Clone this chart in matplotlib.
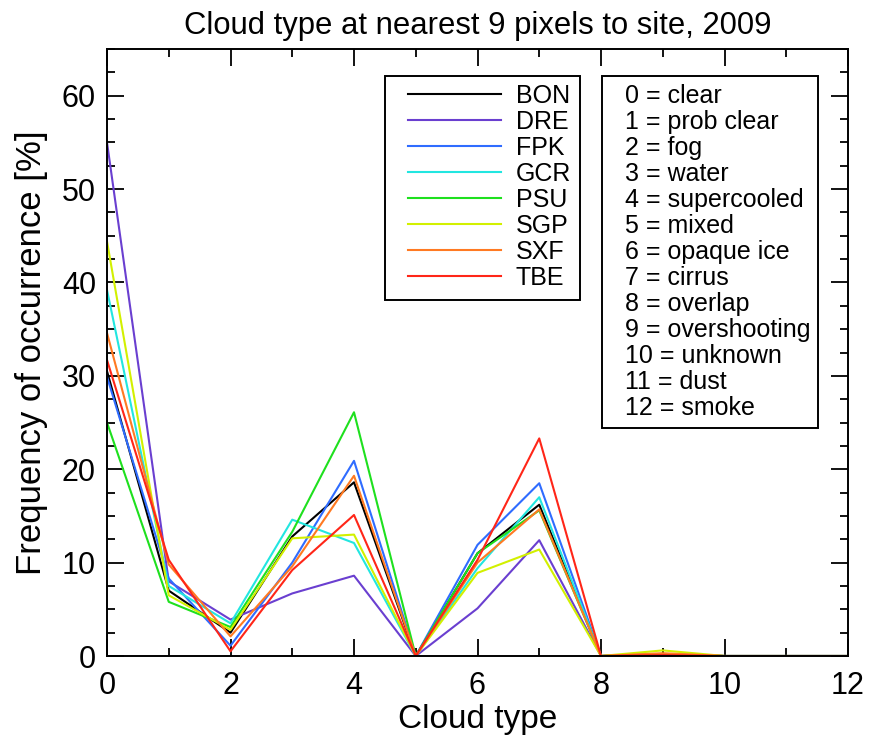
import matplotlib.pyplot as plt
from matplotlib.patches import Rectangle
from matplotlib.ticker import MultipleLocator

plt.rcParams['font.family'] = ['Liberation Sans', 'DejaVu Sans']

# cloud type index on the x axis
cloud_type = [0, 1, 2, 3, 4, 5, 6, 7, 8, 9, 10, 11, 12]

# frequency of occurrence [%] per site
BON = [30.5, 7.0, 2.5, 12.8, 18.6, 0, 11.0, 16.2, 0, 0.2, 0, 0, 0]
DRE = [55.0, 8.0, 3.9, 6.7, 8.6, 0, 5.1, 12.4, 0, 0.2, 0, 0, 0]
FPK = [29.9, 8.3, 1.1, 10.0, 20.9, 0, 11.9, 18.5, 0, 0.1, 0, 0, 0]
GCR = [39.2, 7.5, 3.5, 14.6, 12.1, 0, 9.4, 17.0, 0, 0.2, 0, 0, 0]
PSU = [25.0, 5.8, 3.1, 13.3, 26.1, 0, 11.0, 15.6, 0, 0.2, 0, 0, 0]
SGP = [44.4, 6.5, 2.8, 12.6, 13.0, 0, 8.9, 11.4, 0, 0.6, 0, 0, 0]
SXF = [34.6, 9.8, 2.1, 9.6, 19.3, 0, 10.0, 15.7, 0, 0.3, 0, 0, 0]
TBE = [31.7, 10.3, 0.5, 9.2, 15.1, 0, 10.3, 23.3, 0, 0.1, 0, 0, 0]

sites = ['BON', 'DRE', 'FPK', 'GCR', 'PSU', 'SGP', 'SXF', 'TBE']
series = [BON, DRE, FPK, GCR, PSU, SGP, SXF, TBE]
colors = ['#000000', '#6a3fd0', '#2f6cff', '#22e6e0', '#1ee01e',
          '#d2f000', '#ff7a22', '#ff2618']

type_names = ['clear', 'prob clear', 'fog', 'water', 'supercooled', 'mixed',
              'opaque ice', 'cirrus', 'overlap', 'overshooting', 'unknown',
              'dust', 'smoke']

W, H = 870, 746
fig = plt.figure(figsize=(W / 100, H / 100), dpi=100)
ax_l, ax_r, ax_t, ax_b = 107, 848, 49, 656
ax = fig.add_axes([ax_l / W, 1 - ax_b / H, (ax_r - ax_l) / W, (ax_b - ax_t) / H])


def axfrac(px, py):
    # pixel position -> axes fraction
    return (px - ax_l) / (ax_r - ax_l), (ax_b - py) / (ax_b - ax_t)


for name, vals, col in zip(sites, series, colors):
    ax.plot(cloud_type, vals, color=col, lw=1.5, label=name)

ax.set_xlim(0, 12)
ax.set_ylim(0, 65)
ax.xaxis.set_major_locator(MultipleLocator(2))
ax.xaxis.set_minor_locator(MultipleLocator(1))
ax.yaxis.set_major_locator(MultipleLocator(10))
ax.yaxis.set_minor_locator(MultipleLocator(2.5))
ax.tick_params(which='both', direction='in', top=True, right=True,
               width=1.3, labelsize=22, pad=8)
ax.tick_params(axis='x', which='both', pad=11)
ax.tick_params(which='major', length=12)
ax.tick_params(which='minor', length=6)
for sp in ax.spines.values():
    sp.set_linewidth(1.4)

ax.set_title('Cloud type at nearest 9 pixels to site, 2009', fontsize=22.3, pad=11)
ax.set_xlabel('Cloud type', fontsize=24, labelpad=2)
ax.set_ylabel('Frequency of occurrence [%]', fontsize=25, labelpad=10)

# site legend, framed separately
x0, y0 = axfrac(385, 76)
x1, y1 = axfrac(580, 300)
ax.add_patch(Rectangle((x0, y1), x1 - x0, y0 - y1, transform=ax.transAxes,
                       fill=False, ec='black', lw=1.4, zorder=5))
lx, ly = axfrac(408, 84)
leg = ax.legend(loc='upper left', bbox_to_anchor=(lx, ly), fontsize=18,
                handlelength=3.7, handletextpad=0.6, labelspacing=0.08,
                borderpad=0, borderaxespad=0, frameon=False)

# cloud type key
x0, y0 = axfrac(602, 76)
x1, y1 = axfrac(818, 428)
ax.add_patch(Rectangle((x0, y1), x1 - x0, y0 - y1, transform=ax.transAxes,
                       fill=True, fc='white', ec='black', lw=1.4, zorder=5))
for i, n in enumerate(type_names):
    tx, ty = axfrac(625, 96 + 26 * i)
    ax.text(tx, ty, f'{i} = {n}', transform=ax.transAxes, fontsize=18,
            va='center', ha='left', zorder=6)

fig.savefig('out.png', dpi=100)
